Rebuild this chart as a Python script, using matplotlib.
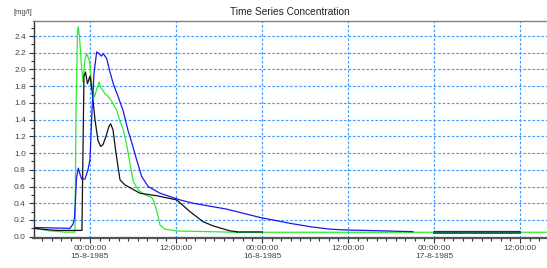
import datetime as dt
import numpy as np
import matplotlib
matplotlib.use("Agg")
import matplotlib.pyplot as plt
import matplotlib.dates as mdates
from matplotlib.ticker import FuncFormatter, MultipleLocator, FixedLocator

plt.rcParams['font.family'] = ['Liberation Sans', 'DejaVu Sans']

BASE = dt.datetime(1985, 8, 15, 0, 0, 0)

# hours relative to 15-8-1985 00:00
black_h = [-7.81, -5.58, -4.19, -1.12, -0.98, -0.84, -0.63, -0.35, 0.0, 0.28, 0.70, 1.12, 1.49,
           1.81, 2.23, 2.65, 2.89, 3.21, 3.63, 4.19, 4.88, 6.98, 9.31, 12.10, 13.95, 15.77,
           17.16, 19.53, 20.47]
black_v = [0.10, 0.08, 0.075, 0.075, 1.0, 1.92, 1.97, 1.83, 1.92, 1.75, 1.40, 1.15, 1.08,
           1.10, 1.20, 1.32, 1.35, 1.28, 1.00, 0.68, 0.62, 0.52, 0.49, 0.44, 0.30, 0.18,
           0.13, 0.07, 0.06]

green_h = [-7.81, -5.58, -3.49, -2.09, -1.95, -1.74, -1.63, -1.47, -1.19, -0.98, -0.70, -0.46,
           -0.28, -0.07, 0.28, 0.63, 0.98, 1.30, 1.53, 1.81, 2.09, 2.51, 3.03, 3.42, 3.73,
           4.19, 4.65, 5.16, 5.58, 6.04, 6.74, 7.67, 8.61, 8.93, 9.35, 9.77, 10.46, 12.10,
           16.74, 20.47, 63.9]
green_v = [0.10, 0.07, 0.055, 0.055, 1.5, 2.45, 2.51, 2.40, 2.05, 1.85, 2.12, 2.19,
           2.15, 2.10, 1.80, 1.67, 1.78, 1.85, 1.78, 1.75, 1.71, 1.68, 1.62, 1.56, 1.51,
           1.38, 1.28, 1.08, 0.88, 0.66, 0.56, 0.50, 0.47, 0.42, 0.30, 0.14, 0.09, 0.068,
           0.06, 0.053, 0.053]

blue_h = [-7.81, -2.79, -2.37, -2.16, -2.09, -1.88, -1.63, -1.40, -1.16, -0.70, -0.28, 0.0,
          0.28, 0.56, 0.93, 1.40, 1.60, 1.86, 2.33, 2.79, 3.25, 3.95, 4.65, 5.34, 5.58,
          6.51, 7.21, 8.13, 9.77, 12.56, 14.41, 19.07, 23.72, 27.91, 30.70, 33.49, 35.82,
          40.00, 45.07, np.nan, 48.0, 60.0]
blue_v = [0.11, 0.10, 0.15, 0.22, 0.34, 0.70, 0.82, 0.75, 0.69, 0.69, 0.80, 0.92,
          1.50, 1.95, 2.21, 2.18, 2.16, 2.19, 2.13, 1.97, 1.83, 1.67, 1.50, 1.26, 1.20,
          0.92, 0.72, 0.60, 0.52, 0.44, 0.40, 0.33, 0.23, 0.16, 0.12, 0.09, 0.08,
          0.072, 0.06, np.nan, 0.062, 0.062]

dark_h = [20.47, 24.0, np.nan, 48.0, 60.0]
dark_v = [0.053, 0.053, np.nan, 0.05, 0.05]

y_ticks = [0.0, 0.2, 0.4, 0.6, 0.8, 1.0, 1.2, 1.4, 1.6, 1.8, 2.0, 2.2, 2.4]


def to_dt(hours):
    out = []
    for h in hours:
        if h is None or (isinstance(h, float) and np.isnan(h)):
            out.append(np.nan)
        else:
            out.append(mdates.date2num(BASE + dt.timedelta(hours=h)))
    return np.array(out, dtype=float)


fig = plt.figure(figsize=(5.47, 2.68), dpi=100)
ax = fig.add_axes([33.5 / 547, (268 - 237.7) / 268, 1 - 33.5 / 547, (237.7 - 21) / 268])

lw = 0.9
ax.plot(to_dt(green_h), green_v, color='#2bee2b', lw=lw, zorder=3)
ax.plot(to_dt(dark_h), dark_v, color='#0a6a2a', lw=1.3, zorder=4)
ax.plot(to_dt(black_h), black_v, color='#111111', lw=lw, zorder=4)
ax.plot(to_dt(blue_h), blue_v, color='#1818ee', lw=lw, zorder=5)

xmin = mdates.date2num(BASE + dt.timedelta(hours=-7.88))
xmax = mdates.date2num(BASE + dt.timedelta(hours=63.77))
ax.set_xlim(xmin, xmax)
ax.set_ylim(-0.012, 2.58)

major = [mdates.date2num(BASE + dt.timedelta(hours=h)) for h in range(0, 64, 12)]
minor = [mdates.date2num(BASE + dt.timedelta(minutes=m)) for m in range(-480, 3840, 80)
         if m % 720 != 0]
ax.xaxis.set_major_locator(FixedLocator(major))
ax.xaxis.set_minor_locator(FixedLocator(minor))


def fmt(x, pos):
    d = mdates.num2date(x)
    if d.hour == 0:
        return "00:00:00\n%d-%d-%d" % (d.day, d.month, d.year)
    return "12:00:00"


ax.xaxis.set_major_formatter(FuncFormatter(fmt))
ax.yaxis.set_major_locator(FixedLocator(y_ticks))
ax.yaxis.set_minor_locator(MultipleLocator(0.1))
ax.yaxis.set_major_formatter(FuncFormatter(lambda v, p: "%.1f" % v))

ax.grid(True, which='major', color='#3f9cff', linestyle=(0, (2.2, 1.6)), lw=0.85)
ax.set_axisbelow(True)

ax.tick_params(axis='both', which='major', labelsize=6, colors='#333333', length=3.5, width=0.8,
               labelcolor='#444444')
ax.tick_params(axis='both', which='minor', length=2, width=0.8, colors='#333333')
ax.tick_params(axis='x', pad=2)
ax.tick_params(axis='y', pad=2)

ax.spines['right'].set_visible(False)
ax.spines['top'].set_color('#808080')
ax.spines['top'].set_linewidth(1.0)
ax.spines['left'].set_color('#333333')
ax.spines['left'].set_linewidth(1.0)
ax.spines['bottom'].set_color('#555555')
ax.spines['bottom'].set_linewidth(1.6)

ax.set_title("Time Series Concentration", fontsize=7.3, color='#222222', pad=4)
fig.text(14 / 547, 1 - 12 / 268, "[mg/l]", fontsize=5.5, color='#444444', va='center', ha='left')

fig.savefig("out.png", dpi=100)
